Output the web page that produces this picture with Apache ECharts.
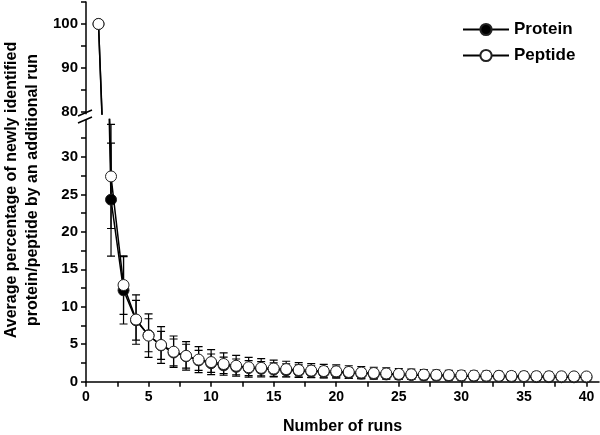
<!DOCTYPE html>
<html>
<head>
<meta charset="utf-8">
<script src="https://cdn.jsdelivr.net/npm/echarts@6/dist/echarts.min.js"></script>
<style>
  html, body { margin: 0; padding: 0; background: #fff; }
  #chart { width: 600px; height: 435px; }
</style>
</head>
<body>
<div id="chart"></div>
<script>
// data
const runs = [1, 2, 3, 4, 5, 6, 7, 8, 9, 10, 11, 12, 13, 14, 15, 16, 17, 18, 19, 20,
  21, 22, 23, 24, 25, 26, 27, 28, 29, 30, 31, 32, 33, 34, 35, 36, 37, 38, 39, 40]
const proteinMean = [100, 24.3, 12.2, 8.2, 6.2, 4.85, 3.9, 3.4, 2.85, 2.47, 2.18, 1.98, 1.82, 1.72, 1.62, 1.52, 1.42, 1.35, 1.28, 1.22,
  1.15, 1.08, 1.02, 0.97, 0.92, 0.88, 0.84, 0.8, 0.77, 0.74, 0.72, 0.7, 0.68, 0.66, 0.64, 0.62, 0.61, 0.6, 0.59, 0.58]
const proteinErr = [0, 7.55, 4.5, 2.65, 2.2, 1.87, 1.8, 1.6, 1.34, 1.23, 1.1, 1.05, 1.0, 0.95, 0.9, 0.86, 0.82, 0.78, 0.75, 0.72,
  0.7, 0.67, 0.65, 0.62, 0.6, 0.58, 0.56, 0.54, 0.52, 0.51, 0.5, 0.49, 0.48, 0.47, 0.46, 0.45, 0.44, 0.43, 0.42, 0.41]
const peptideMean = [100, 27.4, 12.9, 8.3, 6.15, 4.9, 4.0, 3.45, 2.95, 2.62, 2.36, 2.13, 1.93, 1.85, 1.76, 1.68, 1.56, 1.48, 1.42, 1.38,
  1.3, 1.22, 1.16, 1.1, 1.04, 0.99, 0.95, 0.91, 0.88, 0.85, 0.83, 0.81, 0.79, 0.77, 0.75, 0.74, 0.73, 0.72, 0.71, 0.7]
const peptideErr = [0, 6.95, 3.9, 3.3, 2.9, 2.45, 2.1, 1.9, 1.73, 1.67, 1.5, 1.38, 1.32, 1.22, 1.12, 1.05, 0.98, 0.93, 0.9, 0.86,
  0.83, 0.8, 0.77, 0.74, 0.71, 0.69, 0.67, 0.65, 0.63, 0.62, 0.6, 0.59, 0.58, 0.57, 0.56, 0.55, 0.54, 0.53, 0.52, 0.51]

// axis ticks / labels
const xTicks = [0, 2.5, 5, 7.5, 10, 12.5, 15, 17.5, 20, 22.5, 25, 27.5, 30, 32.5, 35, 37.5, 40]
const xLabels = [0, 5, 10, 15, 20, 25, 30, 35, 40]
const upperTicks = [80, 85, 90, 95, 100, 105]
const upperLabels = [80, 90, 100]
const lowerTicks = [0, 2.5, 5, 7.5, 10, 12.5, 15, 17.5, 20, 22.5, 25, 27.5, 30, 32.5]
const lowerLabels = [0, 5, 10, 15, 20, 25, 30]

const font = 'Liberation Sans, Arial, sans-serif'
const black = '#000'

const pairs = (xs, ys) => xs.map((x, i) => [x, ys[i]])
const bars = (xs, m, e) => xs.map((x, i) => [x, m[i] - e[i], m[i] + e[i]]).filter((d, i) => e[i] > 0)

function renderErr(params, api) {
  const x = api.value(0)
  const lo = api.coord([x, api.value(1)])
  const hi = api.coord([x, api.value(2)])
  const w = 4
  const style = { stroke: black, lineWidth: 1.2 }
  return {
    type: 'group',
    children: [
      { type: 'line', shape: { x1: lo[0], y1: lo[1], x2: hi[0], y2: hi[1] }, style },
      { type: 'line', shape: { x1: hi[0] - w, y1: hi[1], x2: hi[0] + w, y2: hi[1] }, style },
      { type: 'line', shape: { x1: lo[0] - w, y1: lo[1], x2: lo[0] + w, y2: lo[1] }, style },
    ],
  }
}

const axisLine = { show: true, lineStyle: { color: black, width: 1.5 } }
const axisLabel = { color: black, fontFamily: font, fontWeight: 'bold', fontSize: 15 }

function lineSeries(name, data, grid, fill, z) {
  return {
    name,
    type: 'line',
    xAxisIndex: grid,
    yAxisIndex: grid,
    data,
    clip: true,
    symbol: 'circle',
    symbolSize: 11,
    z,
    lineStyle: { color: black, width: 1.5 },
    itemStyle: { color: fill, borderColor: '#222', borderWidth: 1 },
    emphasis: { disabled: true },
  }
}

let myChart = echarts.init(document.getElementById('chart'))
myChart.setOption({
  animation: false,
  backgroundColor: '#fff',
  grid: [
    { left: 86, width: 513, top: 2, height: 112, outerBoundsMode: 'none', containLabel: false },
    { left: 86, width: 513, top: 119.5, height: 262.2, outerBoundsMode: 'none', containLabel: false },
  ],
  xAxis: [
    { gridIndex: 0, type: 'value', min: 0, max: 41, show: false },
    {
      gridIndex: 1,
      type: 'value',
      min: 0,
      max: 41,
      axisLine,
      splitLine: { show: false },
      axisTick: { length: 5, customValues: xTicks, lineStyle: { color: black, width: 1.5 } },
      axisLabel: { ...axisLabel, fontSize: 14, margin: 8, customValues: xLabels },
      name: 'Number of runs',
      nameLocation: 'middle',
      nameGap: 37,
      nameTextStyle: { color: black, fontFamily: font, fontWeight: 'bold', fontSize: 16 },
    },
  ],
  yAxis: [
    {
      gridIndex: 0,
      type: 'value',
      min: 79.5,
      max: 105,
      axisLine,
      splitLine: { show: false },
      axisTick: { length: 5, customValues: upperTicks, lineStyle: { color: black, width: 1.5 } },
      axisLabel: { ...axisLabel, margin: 8, customValues: upperLabels },
    },
    {
      gridIndex: 1,
      type: 'value',
      min: 0,
      max: 35,
      axisLine,
      splitLine: { show: false },
      axisTick: { length: 5, customValues: lowerTicks, lineStyle: { color: black, width: 1.5 } },
      axisLabel: { ...axisLabel, margin: 8, customValues: lowerLabels },
    },
  ],
  legend: {
    data: ['Protein', 'Peptide'],
    orient: 'vertical',
    left: 457,
    top: 16,
    itemWidth: 46,
    itemHeight: 14,
    itemGap: 9,
    textStyle: { color: black, fontFamily: font, fontWeight: 'bold', fontSize: 17 },
  },
  graphic: [
    {
      type: 'text',
      x: 22,
      y: 190,
      rotation: Math.PI / 2,
      style: {
        text: 'Average percentage of newly identified\nprotein/peptide by an additional run',
        fill: black,
        font: 'bold 16px ' + font,
        align: 'center',
        verticalAlign: 'middle',
        lineHeight: 21,
      },
    },
    // axis break marks
    { type: 'line', shape: { x1: 78, y1: 116, x2: 92, y2: 110 }, style: { stroke: black, lineWidth: 1.5 }, z: 100 },
    { type: 'line', shape: { x1: 78, y1: 123, x2: 92, y2: 117 }, style: { stroke: black, lineWidth: 1.5 }, z: 100 },
    { type: 'rect', shape: { x: 84, y: 114.5, width: 4, height: 4.5 }, style: { fill: '#fff' }, z: 99 },
  ],
  series: [
    {
      type: 'custom',
      xAxisIndex: 1,
      yAxisIndex: 1,
      clip: true,
      z: 1,
      data: bars(runs, proteinMean, proteinErr),
      renderItem: renderErr,
    },
    {
      type: 'custom',
      xAxisIndex: 1,
      yAxisIndex: 1,
      clip: true,
      z: 1,
      data: bars(runs, peptideMean, peptideErr),
      renderItem: renderErr,
    },
    lineSeries('Protein', pairs(runs, proteinMean), 0, black, 2),
    lineSeries('Peptide', pairs(runs, peptideMean), 0, '#fff', 3),
    lineSeries('Protein', pairs(runs, proteinMean), 1, black, 2),
    lineSeries('Peptide', pairs(runs, peptideMean), 1, '#fff', 3),
  ],
})
</script>
</body>
</html>
